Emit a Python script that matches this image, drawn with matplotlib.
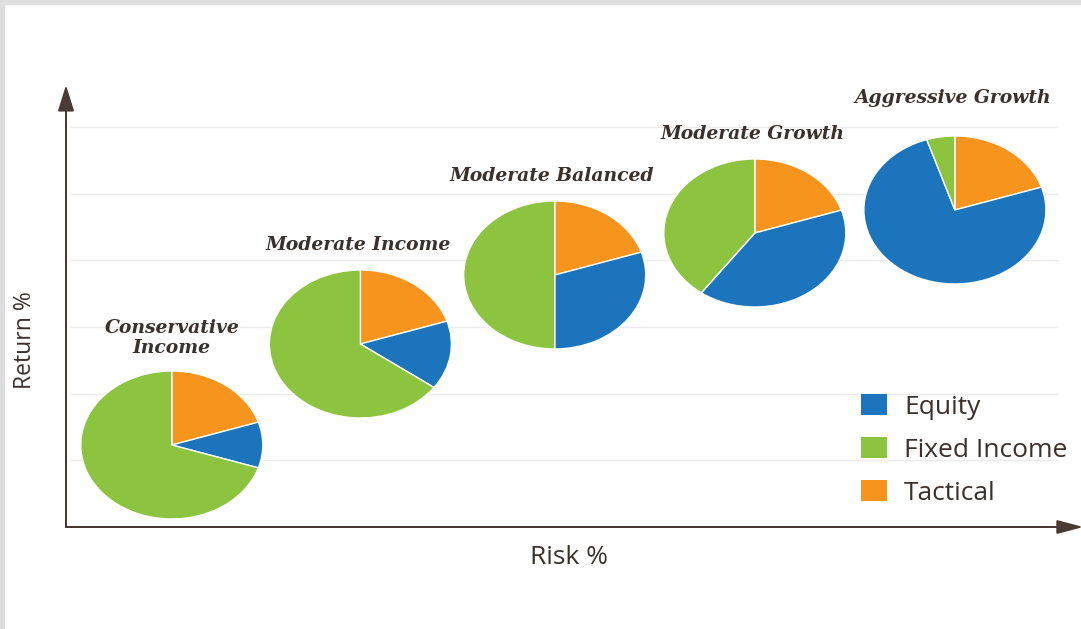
import matplotlib
matplotlib.use("Agg")
import matplotlib.pyplot as plt
from matplotlib.patches import Rectangle

# ---- data ----
profiles = ["Conservative\nIncome", "Moderate Income", "Moderate Balanced",
            "Moderate Growth", "Aggressive Growth"]
risk = [1.29, 3.59, 5.96, 8.40, 10.84]
ret = [1.23, 2.745, 3.78, 4.41, 4.755]
equity = [10, 15, 30, 40, 75]
fixed_income = [70, 65, 50, 40, 5]
tactical = [20, 20, 20, 20, 20]
series_names = ["Equity", "Fixed Income", "Tactical"]
grid_levels = [1, 2, 3, 4, 5, 6]

# ---- style ----
C_EQ, C_FI, C_TA = "#1c75bc", "#8cc43f", "#f7941d"
AX_COL = "#4a3a33"
TXT_COL = "#3a302c"
W, H, DPI = 1081, 629, 100
PIE_R = 1.11
title_offsets_px = [(0, 33), (-2, 25), (-3, 25), (-2, 25), (-2, 38)]

fig = plt.figure(figsize=(W / DPI, H / DPI), dpi=DPI, facecolor="white")
ax = fig.add_axes([66 / W, (H - 527) / H, (W - 66) / W, (527 - 85) / H])
xmax, ymax = (W - 66) / 82.0, (527 - 85) / 66.67

# gridlines
ax.hlines(grid_levels, (70 - 66) / 82.0, (1058 - 66) / 82.0,
          colors="#ebebeb", linewidth=1, zorder=0)

wedges_first = None
for i in range(len(profiles)):
    vals = [tactical[i], equity[i], fixed_income[i]]
    w, _ = ax.pie(vals, colors=[C_TA, C_EQ, C_FI], startangle=90,
                  counterclock=False, center=(risk[i], ret[i]), radius=PIE_R,
                  frame=True,
                  wedgeprops=dict(edgecolor="white", linewidth=1.0))
    for wd in w:
        wd.set_zorder(2)
    if wedges_first is None:
        wedges_first = w
    dx, dy = title_offsets_px[i]
    ax.annotate(profiles[i], xy=(risk[i], ret[i] + PIE_R),
                xytext=(dx * 0.72, dy * 0.72), textcoords="offset points",
                ha="center", va="center", fontsize=13.5,
                family="DejaVu Serif", style="italic", weight="bold",
                color=TXT_COL, linespacing=1.1, zorder=3)

ax.set_aspect("auto")
ax.set_xlim(0, xmax)
ax.set_ylim(0, ymax)
ax.set_xticks([])
ax.set_yticks([])
for s in ax.spines.values():
    s.set_visible(False)
ax.set_facecolor("none")

# axes with arrows
lw = 2 * 72 / DPI
ax.annotate("", xy=(0, ymax), xytext=(0, 0),
            arrowprops=dict(arrowstyle="-|>,head_length=1.6,head_width=0.5",
                            color=AX_COL, lw=lw, shrinkA=0, shrinkB=0),
            annotation_clip=False)
ax.annotate("", xy=(xmax + 0.03, 0), xytext=(0, 0),
            arrowprops=dict(arrowstyle="-|>,head_length=1.6,head_width=0.42",
                            color=AX_COL, lw=lw, shrinkA=0, shrinkB=0),
            annotation_clip=False)

# legend
handles = [wedges_first[1], wedges_first[2], wedges_first[0]]
leg = ax.legend(handles, series_names, loc="upper left",
                bbox_to_anchor=(861 / W, 1 - 394 / H),
                bbox_transform=fig.transFigure, frameon=False,
                borderpad=0, borderaxespad=0,
                prop=dict(family="Open Sans", size=19),
                handlelength=0.985, handleheight=0.83, handletextpad=0.64,
                labelspacing=0.67)
for t in leg.get_texts():
    t.set_color(TXT_COL)
for h in leg.legend_handles:
    h.set_edgecolor("none")

# axis labels
fig.text(25 / W, 1 - 340 / H, "Return %", rotation=90, ha="center",
         va="center", family="Open Sans", fontsize=16.5, color=TXT_COL)
fig.text(569 / W, 1 - 557 / H, "Risk %", ha="center", va="center",
         family="Open Sans", fontsize=19, color=TXT_COL)

# light gray frame at top and left
fig.add_artist(Rectangle((0, 1 - 4 / H), 1, 4 / H, transform=fig.transFigure,
                         color="#dedede", zorder=10))
fig.add_artist(Rectangle((0, 0), 4 / W, 1, transform=fig.transFigure,
                         color="#dedede", zorder=10))

fig.savefig("out.png", dpi=DPI, facecolor="white")
